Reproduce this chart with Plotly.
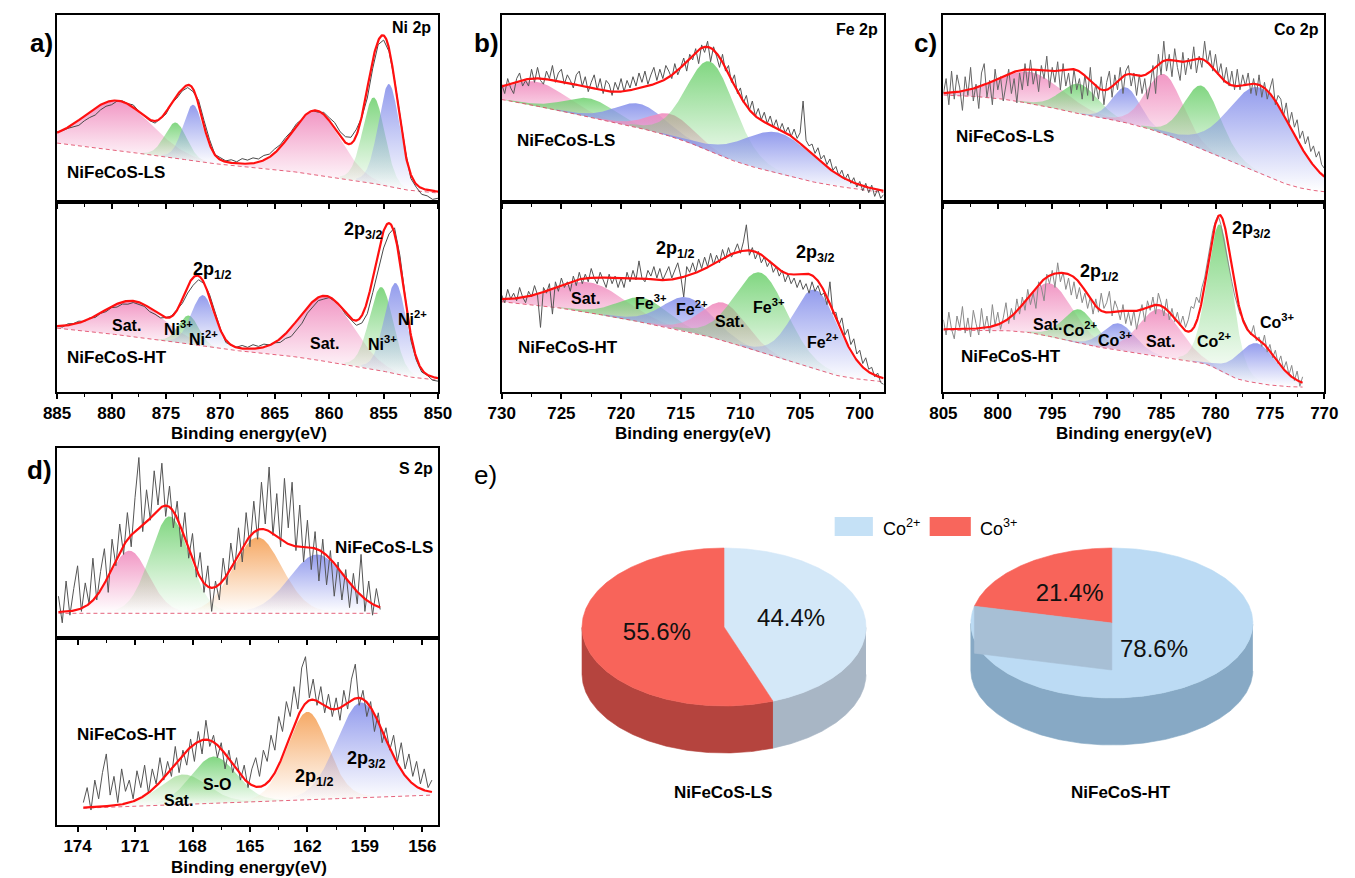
import numpy as np
import plotly.graph_objects as go

W, H = 1355, 878
FONT = "Liberation Sans, Arial, Helvetica, sans-serif"

# ============================ DATA ============================
# Raw XPS spectra (normalised intensity, 0-100 of each sub-frame)
# ---- Ni 2p : 885 -> 850 eV, 0.5 eV step
NI_START, NI_STEP = 885.0, 0.5
NI_LS_RAW = [37.5, 38.2, 39.4, 40.1, 41.0, 43.4, 45.2, 46.5, 49.3, 51.2, 52.0, 53.9, 54.1, 52.6, 51.9, 48.6,
             46.3, 43.5, 42.2, 44.5, 47.0, 52.6, 55.5, 59.4, 61.2, 59.0, 54.4, 43.6, 33.5, 25.4, 23.9, 22.0,
             22.6, 21.5, 23.2, 22.4, 23.6, 23.0, 24.9, 25.6, 28.4, 30.6, 34.5, 37.6, 41.9, 44.2, 47.4, 48.8,
             48.0, 47.9, 45.1, 42.5, 37.6, 34.9, 34.6, 38.9, 45.4, 55.6, 71.5, 84.2, 86.6, 80.4, 65.5, 45.6,
             27.4, 12.6, 7.9, 4.1, 3.3, 1.4, 2.0]
NI_HT_RAW = [34.6, 34.2, 35.9, 36.0, 37.3, 37.1, 38.9, 39.2, 41.4, 42.3, 44.4, 44.7, 46.3, 46.2, 47.1, 45.9,
             45.1, 42.3, 40.9, 39.0, 39.2, 40.0, 43.6, 46.6, 52.1, 56.2, 59.1, 57.0, 51.4, 41.7, 33.3, 26.1,
             24.6, 23.6, 24.5, 23.5, 24.9, 24.0, 25.2, 24.8, 25.9, 26.1, 28.2, 29.2, 32.8, 36.2, 41.5, 44.7,
             48.1, 48.9, 49.7, 47.7, 45.3, 40.9, 37.9, 35.1, 36.3, 41.2, 52.3, 64.2, 75.8, 83.2, 86.4, 71.7,
             48.8, 27.2, 16.8, 10.5, 8.8, 6.2, 5.7]
# ---- Fe 2p : 730 -> 698 eV, 0.25 eV step
FE_START, FE_STEP = 730.0, 0.25
FE_LS_RAW = [63, 58, 66, 61, 58, 66, 69, 62, 65, 62, 71, 64, 72, 65, 63, 70, 66, 73, 64, 69, 71, 63, 68, 65,
             61, 68, 70, 62, 67, 59, 64, 68, 60, 66, 58, 65, 63, 57, 64, 60, 66, 59, 65, 61, 67, 62, 69, 64,
             70, 63, 68, 72, 65, 71, 66, 73, 70, 66, 74, 68, 72, 77, 70, 79, 76, 82, 74, 84, 80, 86, 75, 83,
             78, 72, 79, 70, 73, 64, 68, 58, 61, 53, 57, 49, 54, 46, 50, 44, 48, 42, 46, 40, 44, 38, 42, 37,
             40, 35, 39, 34, 37, 54, 33, 30, 31, 26, 29, 23, 25, 20, 23, 17, 19, 14, 17, 12, 15, 10, 13, 8,
             11, 6, 10, 5, 9, 3, 7, 2, 4]
FE_HT_RAW = [51, 47, 54, 49, 52, 48, 55, 50, 47, 53, 50, 56, 51, 34, 55, 52, 57, 41, 58, 53, 60, 55, 58, 53,
             61, 56, 63, 57, 62, 58, 65, 60, 57, 63, 59, 55, 62, 57, 61, 55, 60, 55, 63, 58, 64, 59, 69, 60,
             58, 64, 61, 66, 60, 65, 59, 63, 66, 60, 64, 68, 61, 50, 66, 63, 68, 63, 70, 65, 71, 66, 73, 67,
             72, 68, 75, 70, 76, 71, 74, 78, 73, 79, 88, 72, 76, 70, 74, 68, 71, 66, 69, 63, 66, 61, 64, 58,
             62, 57, 60, 55, 59, 54, 57, 52, 58, 53, 56, 51, 52, 46, 58, 41, 42, 35, 39, 30, 33, 25, 28, 20,
             22, 15, 18, 12, 13, 8, 10, 5, 4]
# ---- Co 2p : 805 -> 770 / 772 eV, 0.25 eV step
CO_START, CO_STEP = 805.0, 0.25
CO_LS_RAW = [58, 66, 52, 70, 55, 68, 61, 49, 67, 57, 72, 54, 63, 50, 69, 74, 56, 65, 52, 71, 60, 67, 54, 63,
             71, 58, 66, 53, 69, 60, 74, 62, 76, 63, 70, 59, 73, 66, 78, 61, 72, 64, 75, 60, 74, 62, 69, 58,
             71, 60, 66, 55, 68, 57, 72, 54, 63, 55, 67, 52, 64, 70, 56, 68, 60, 72, 58, 70, 73, 62, 69, 57,
             68, 58, 66, 55, 62, 73, 58, 79, 68, 86, 70, 79, 67, 82, 72, 65, 80, 68, 77, 71, 83, 69, 78, 72,
             86, 74, 81, 70, 79, 68, 74, 64, 72, 62, 70, 60, 71, 60, 68, 62, 69, 58, 66, 57, 68, 56, 64, 55,
             61, 66, 52, 57, 55, 46, 53, 42, 48, 40, 44, 34, 38, 31, 35, 27, 30, 24, 27, 20, 18]
CO_HT_RAW = [38, 30, 42, 33, 28, 40, 34, 45, 31, 39, 29, 43, 36, 30, 44, 33, 40, 31, 46, 35, 42, 33, 39, 47,
             36, 44, 38, 49, 41, 50, 43, 54, 46, 52, 44, 58, 55, 48, 62, 57, 64, 55, 68, 58, 63, 54, 60, 51,
             58, 49, 55, 47, 52, 44, 50, 41, 49, 42, 52, 44, 47, 53, 40, 48, 44, 38, 46, 36, 42, 35, 43, 33,
             40, 46, 37, 48, 43, 50, 41, 52, 47, 40, 49, 38, 44, 37, 42, 35, 40, 34, 38, 45, 44, 50, 47, 55,
             60, 68, 76, 85, 90, 93, 88, 80, 74, 66, 58, 51, 46, 41, 39, 36, 33, 30, 35, 27, 29, 24, 30, 21,
             25, 18, 22, 15, 19, 12, 16, 9, 14, 6, 11, 3, 8]
# ---- S 2p : 0.2 eV step
S_LS_START, S_HT_START, S_STEP = 175.0, 173.7, 0.2
S_LS_RAW = [22, 8, 30, 12, 26, 38, 14, 29, 18, 42, 20, 35, 47, 24, 52, 38, 60, 44, 66, 48, 74,
            95, 56, 78, 62, 88, 70, 92, 64, 80, 58, 72, 48, 66, 42, 55, 32, 45, 24, 38, 14,
            30, 20, 42, 28, 50, 36, 58, 40, 66, 48, 72, 52, 82, 60, 90, 54, 76, 48, 84, 58,
            82, 46, 70, 40, 62, 36, 56, 30, 52, 28, 46, 22, 40, 20, 36, 16, 34, 18, 44, 14,
            30, 12, 26, 15]
S_HT_RAW = [12, 20, 8, 24, 14, 28, 38, 16, 26, 12, 30, 18, 24, 14, 29, 20, 32, 17, 30, 22,
            36, 24, 34, 26, 42, 28, 40, 32, 46, 34, 50, 38, 56, 42, 48, 36, 44, 30, 40, 28,
            36, 24, 32, 20, 30, 36, 26, 40, 34, 48, 40, 58, 50, 66, 58, 74, 62, 84, 90, 68,
            78, 64, 74, 60, 70, 58, 68, 56, 72, 62, 78, 86, 64, 72, 58, 66, 50, 60, 44, 52,
            40, 48, 34, 44, 30, 38, 26, 34, 22, 30, 20, 24]

# Fitted components: (colour kind, centre eV, height, FWHM eV)
NI_LS_PEAKS = [("pink", 879.4, 26.4, 7.3), ("green", 874.1, 19, 2.4), ("blue", 872.5, 30, 2.2),
               ("pink", 861.2, 34, 5.3), ("green", 855.9, 46, 2.4), ("blue", 854.5, 55, 2.3)]
NI_HT_PEAKS = [("pink", 878.0, 18.6, 6.5), ("green", 872.9, 15, 2.2), ("blue", 871.6, 27, 2.5),
               ("pink", 860.3, 34, 5.8), ("green", 855.2, 44, 2.6), ("blue", 853.9, 48, 2.4)]
FE_LS_PEAKS = [("pink", 727.0, 13, 6.0), ("green", 722.6, 10, 5.0), ("blue", 718.4, 13, 5.0),
               ("pink", 715.8, 12, 4.5), ("green", 712.5, 48, 4.8), ("blue", 706.8, 22, 7.0)]
FE_HT_PEAKS = [("pink", 722.6, 16, 7.0), ("green", 718.2, 13, 5.0), ("blue", 714.4, 18, 5.0),
               ("pink", 711.4, 20, 4.5), ("green", 708.3, 42, 5.2), ("blue", 703.7, 42, 4.5)]
CO_LS_PEAKS = [("pink", 797.0, 17, 7.0), ("green", 792.5, 16, 4.0), ("blue", 788.2, 19, 3.0),
               ("pink", 784.7, 32, 4.0), ("green", 781.2, 34, 4.0), ("blue", 775.8, 46, 7.0)]
CO_HT_PEAKS = [("pink", 795.2, 28, 5.0), ("green", 792.5, 18, 3.5), ("blue", 788.9, 14, 3.5),
               ("pink", 785.1, 25, 4.5), ("green", 779.6, 77, 2.7), ("blue", 776.2, 21, 4.2)]
S_LS_PEAKS = [("pink", 171.3, 33, 2.4), ("green", 169.2, 51, 2.4),
              ("orange", 164.6, 40, 3.0), ("blue", 161.5, 31, 3.4)]
S_HT_PEAKS = [("lgreen", 168.5, 16, 3.0), ("green", 166.9, 25, 2.8),
              ("orange", 162.0, 47, 2.5), ("blue", 159.2, 51, 3.0)]

# Backgrounds: (value at high-BE end, value at low-BE end, Shirley share)
NI_LS_BG, NI_HT_BG = (31.5, 4.8, 0.3), (33.6, 6.3, 0.3)
FE_LS_BG, FE_HT_BG = (54.8, 5.0, 0.5), (47.5, 5.4, 0.6)
CO_LS_BG, CO_HT_BG = (57.2, 5.5, 0.9), (32.6, 2.6, 1.0)
S_LS_BG, S_HT_BG = (13.0, 13.0, 0.0), (9.0, 16.0, 0.0)

# Co valence ratio (%)
PIE_LABELS = ["Co<sup>2+</sup>", "Co<sup>3+</sup>"]
PIE_LS = [44.4, 55.6]
PIE_HT = [78.6, 21.4]
SAMPLES = ["NiFeCoS-LS", "NiFeCoS-HT"]

# ============================ STYLE / LAYOUT ============================
COLORS = {"pink": (240, 140, 190), "green": (115, 210, 115), "blue": (135, 145, 235),
          "orange": (245, 160, 85), "lgreen": (175, 225, 165)}

PANELS = {
    "a": dict(x=(44, 433), top=(15, 202), bot=(202, 392), range=(885, 850), dtick=5, minor=2.5),
    "b": dict(x=(498, 888), top=(15, 202), bot=(202, 392), range=(730, 698), dtick=5, minor=2.5),
    "c": dict(x=(949, 1338), top=(15, 202), bot=(202, 392), range=(805, 770), dtick=5, minor=2.5),
    "d": dict(x=(44, 433), top=(448, 638), bot=(638, 825), range=(175.07, 155.18), dtick=3, minor=1.5),
}

SPECTRA = [
    ("a", "top", NI_START, NI_STEP, NI_LS_RAW, NI_LS_PEAKS, NI_LS_BG, 0.1, "#4a4a4a"),
    ("a", "bot", NI_START, NI_STEP, NI_HT_RAW, NI_HT_PEAKS, NI_HT_BG, 0.1, "#4a4a4a"),
    ("b", "top", FE_START, FE_STEP, FE_LS_RAW, FE_LS_PEAKS, FE_LS_BG, 0.15, "#555555"),
    ("b", "bot", FE_START, FE_STEP, FE_HT_RAW, FE_HT_PEAKS, FE_HT_BG, 0.15, "#555555"),
    ("c", "top", CO_START, CO_STEP, CO_LS_RAW, CO_LS_PEAKS, CO_LS_BG, 0.15, "#666666"),
    ("c", "bot", CO_START, CO_STEP, CO_HT_RAW, CO_HT_PEAKS, CO_HT_BG, 0.15, "#8a8a8a"),
    ("d", "top", S_LS_START, S_STEP, S_LS_RAW, S_LS_PEAKS, S_LS_BG, 0.1, "#555555"),
    ("d", "bot", S_HT_START, S_STEP, S_HT_RAW, S_HT_PEAKS, S_HT_BG, 0.1, "#555555"),
]


def pv(E, c, h, w, eta):
    u = (E - c) / w
    return h * ((1 - eta) * np.exp(-4 * np.log(2) * u ** 2) + eta / (1 + 4 * u ** 2))


def fit_model(E, peaks, bg, eta):
    comps = [pv(E, c, h, w, eta) for (_, c, h, w) in peaks]
    tot = np.sum(comps, axis=0)
    cum = np.cumsum(tot[::-1])[::-1]
    f_sh = cum / cum[0]
    f_lin = (E - E.min()) / (E.max() - E.min())
    hi, lo, s = bg
    base = lo + (hi - lo) * ((1 - s) * f_lin + s * f_sh)
    return base, comps, base + tot


fig = go.Figure()
layout = {}

axis_index = {}
n = 0
for key, P in PANELS.items():
    for row in ("top", "bot"):
        n += 1
        axis_index[(key, row)] = n
        sfx = "" if n == 1 else str(n)
        y0, y1 = P[row]
        layout["xaxis" + sfx] = dict(
            domain=[P["x"][0] / W, P["x"][1] / W], range=list(P["range"]), anchor="y" + sfx,
            showline=True, linecolor="black", linewidth=1.5, mirror=True,
            ticks="outside", ticklen=5, tickwidth=1.5, tickcolor="black", dtick=P["dtick"],
            minor=dict(ticks="outside", ticklen=3, tickwidth=1, tickcolor="black", dtick=P["minor"]),
            showgrid=False, zeroline=False, showticklabels=(row == "bot"),
            tickfont=dict(family=FONT, size=17, color="black", weight="bold"))
        layout["yaxis" + sfx] = dict(
            domain=[1 - y1 / H, 1 - y0 / H], range=[0, 100], anchor="x" + sfx,
            showline=True, linecolor="black", linewidth=1.5, mirror=True,
            ticks="", showticklabels=False, showgrid=False, zeroline=False)

for key, row, start, step, raw, peaks, bg, eta, rawcol in SPECTRA:
    n = axis_index[(key, row)]
    xa = "x" if n == 1 else f"x{n}"
    ya = "y" if n == 1 else f"y{n}"
    Er = start - step * np.arange(len(raw))
    E = np.linspace(Er[0], Er[-1], 900)
    base, comps, env = fit_model(E, peaks, bg, eta)
    for (kind, c, h, w), comp in zip(peaks, comps):
        m = comp > 0.02 * comp.max()
        xs = E[m]
        r, g, b = COLORS[kind]
        fig.add_trace(go.Scatter(
            x=np.concatenate([xs, xs[::-1]]),
            y=np.concatenate([(base + comp)[m], base[m][::-1]]),
            fill="toself", mode="lines", line=dict(width=0),
            fillgradient=dict(type="vertical", colorscale=[
                [0, f"rgba({r},{g},{b},0.0)"], [0.4, f"rgba({r},{g},{b},0.35)"],
                [1, f"rgba({r},{g},{b},0.9)"]]),
            hoverinfo="skip", showlegend=False, xaxis=xa, yaxis=ya))
    fig.add_trace(go.Scatter(x=E, y=base, mode="lines",
                             line=dict(color="rgba(225,70,100,0.85)", width=1, dash="4px,3px"),
                             hoverinfo="skip", showlegend=False, xaxis=xa, yaxis=ya))
    fig.add_trace(go.Scatter(x=Er, y=raw, mode="lines", line=dict(color=rawcol, width=1),
                             hoverinfo="skip", showlegend=False, xaxis=xa, yaxis=ya))
    fig.add_trace(go.Scatter(x=E, y=env, mode="lines", line=dict(color="#ff1010", width=2.2),
                             hoverinfo="skip", showlegend=False, xaxis=xa, yaxis=ya))

# ---------------- panel e : 3-D style pies ----------------
layout["xaxis9"] = dict(domain=[560 / W, 1290 / W], range=[560, 1290], visible=False, anchor="y9")
layout["yaxis9"] = dict(domain=[1 - 770 / H, 1 - 530 / H], range=[770, 530], visible=False, anchor="x9")


def poly(x, y, color):
    return go.Scatter(x=x, y=y, fill="toself", mode="lines", line=dict(width=0.6, color=color),
                      fillcolor=color, hoverinfo="skip", showlegend=False, xaxis="x9", yaxis="y9")


def pie3d(values, cx, cy, rx, ry, depth, tops, walls, cut=None):
    total = float(sum(values))
    spans, ang = [], 90.0
    for v in values:
        a1 = ang - 360.0 * v / total
        spans.append((ang, a1))
        ang = a1
    for (a0, a1), wc in zip(spans, walls):
        t = np.radians(np.linspace(a0, a1, 300))
        msk = np.sin(t) <= 0
        if msk.any():
            xs = cx + rx * np.cos(t[msk])
            ys = cy - ry * np.sin(t[msk])
            fig.add_trace(poly(np.r_[xs, xs[::-1]], np.r_[ys, ys[::-1] + depth], wc))
    for (a0, a1), tc in zip(spans, tops):
        t = np.radians(np.linspace(a0, a1, 300))
        fig.add_trace(poly(np.r_[cx, cx + rx * np.cos(t), cx], np.r_[cy, cy - ry * np.sin(t), cy], tc))
    if cut is not None:
        a = np.radians(spans[0][1])
        ex, ey = cx + rx * np.cos(a), cy - ry * np.sin(a)
        fig.add_trace(poly([cx, ex, ex, cx, cx], [cy, ey, ey + depth, cy + depth, cy], cut))
    px, py, tx = [], [], []
    for (a0, a1), v in zip(spans, values):
        am = np.radians((a0 + a1) / 2)
        px.append(cx + 0.48 * rx * np.cos(am))
        py.append(cy - 0.48 * ry * np.sin(am))
        tx.append(f"{v:.1f}%")
    fig.add_trace(go.Scatter(x=px, y=py, text=tx, mode="text",
                             textfont=dict(family=FONT, size=24, color="#111111"),
                             hoverinfo="skip", showlegend=False, xaxis="x9", yaxis="y9"))


pie3d(PIE_LS, 725, 627, 145, 79, 47, ["#d4e8f8", "#f8645a"], ["#a8b6c5", "#b5443e"])
pie3d(PIE_HT, 1121, 623, 144, 75, 47, ["#bcdbf4", "#f8645a"], ["#87a9c5", "#b5443e"], cut="#a7bfd5")

# ---------------- text ----------------
ann = []


def A(text, x, y, size=16, xanchor="center", bold=True, color="black"):
    ann.append(dict(text=text, x=x / W, y=1 - y / H, xref="paper", yref="paper", showarrow=False,
                    xanchor=xanchor, yanchor="middle",
                    font=dict(family=FONT, size=size, color=color, weight="bold" if bold else "normal")))


# panel letters
A("a)", 28, 43, 26); A("b)", 482, 43, 26); A("c)", 931, 43, 26); A("d)", 26, 470, 26)
A("e)", 481, 475, 26, bold=False)
# element labels
A("Ni 2p", 428, 28, 16, "right"); A("Fe 2p", 884, 30, 16, "right")
A("Co 2p", 1335, 29, 16, "right"); A("S 2p", 430, 468, 16, "right")
# sample labels
A(SAMPLES[0], 52, 172, 17, "left"); A(SAMPLES[1], 52, 357, 17, "left")
A(SAMPLES[0], 512, 140, 17, "left"); A(SAMPLES[1], 513, 347, 17, "left")
A(SAMPLES[0], 960, 136, 17, "left"); A(SAMPLES[1], 965, 356, 17, "left")
A(SAMPLES[0], 430, 547, 17, "right"); A(SAMPLES[1], 62, 734, 17, "left")
# axis titles
for xc, yc in [(240, 433), (693, 433), (1144, 433), (240, 867)]:
    A("Binding energy(eV)", xc, yc, 17)
# Ni 2p peaks
A("2p<sub>1/2</sub>", 203, 270, 18); A("2p<sub>3/2</sub>", 357, 230, 18)
A("Sat.", 115, 325, 16); A("Ni<sup>3+</sup>", 168, 328, 16); A("Ni<sup>2+</sup>", 193, 338, 16)
A("Sat.", 317, 343, 16); A("Ni<sup>3+</sup>", 376, 343, 16); A("Ni<sup>2+</sup>", 407, 318, 16)
# Fe 2p peaks
A("2p<sub>1/2</sub>", 675, 249, 18); A("2p<sub>3/2</sub>", 818, 253, 18)
A("Sat.", 584, 299, 16); A("Fe<sup>3+</sup>", 650, 302, 16); A("Fe<sup>2+</sup>", 692, 308, 16)
A("Sat.", 731, 322, 16); A("Fe<sup>3+</sup>", 771, 306, 16); A("Fe<sup>2+</sup>", 826, 341, 16)
# Co 2p peaks
A("2p<sub>3/2</sub>", 1264, 229, 18); A("2p<sub>1/2</sub>", 1108, 272, 18)
A("Co<sup>3+</sup>", 1290, 321, 16); A("Sat.", 1055, 324, 16); A("Co<sup>2+</sup>", 1089, 329, 16)
A("Co<sup>3+</sup>", 1125, 339, 16); A("Sat.", 1171, 342, 16); A("Co<sup>2+</sup>", 1226, 340, 16)
# S 2p peaks
A("S-O", 207, 784, 16); A("Sat.", 168, 800, 16)
A("2p<sub>1/2</sub>", 307, 777, 18); A("2p<sub>3/2</sub>", 360, 759, 18)
# pie legend + sample names
A(PIE_LABELS[0], 885, 527, 18, "left", bold=False); A(PIE_LABELS[1], 984, 527, 18, "left", bold=False)
A(SAMPLES[0], 724, 792, 17); A(SAMPLES[1], 1130, 792, 17)

shapes = [
    dict(type="rect", xref="paper", yref="paper", x0=838 / W, x1=877 / W, y0=1 - 536 / H, y1=1 - 517 / H,
         fillcolor="#c5e1f6", line=dict(width=0)),
    dict(type="rect", xref="paper", yref="paper", x0=935 / W, x1=977 / W, y0=1 - 536 / H, y1=1 - 517 / H,
         fillcolor="#f8665c", line=dict(width=0)),
]

fig.update_layout(**layout)
fig.update_layout(width=W, height=H, margin=dict(l=0, r=0, t=0, b=0), autosize=False,
                  paper_bgcolor="white", plot_bgcolor="rgba(0,0,0,0)", showlegend=False,
                  annotations=ann, shapes=shapes,
                  font=dict(family=FONT, size=16, color="black"))

fig.write_html("out.html", config={"displayModeBar": False},
               post_script="document.body.style.margin='0';document.body.style.overflow='hidden';")
